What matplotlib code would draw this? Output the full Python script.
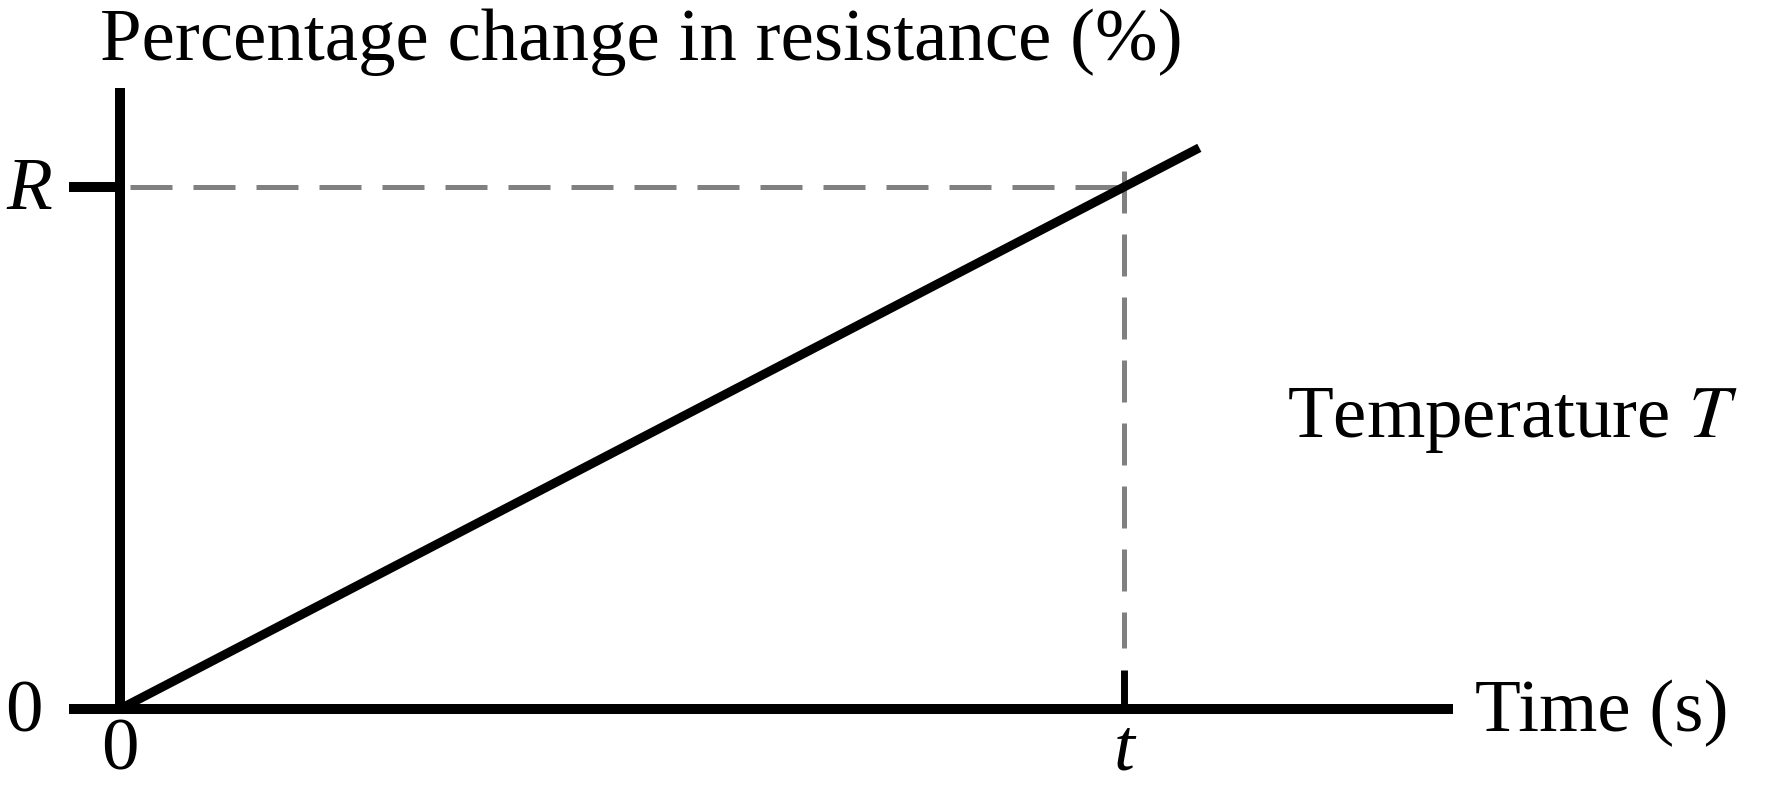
import matplotlib
matplotlib.use("Agg")
import matplotlib.pyplot as plt

# values (t and R are the marked values)
t_val = 1.0
R_val = 1.0
line_x = [0.0, 1.075]
line_y = [0.0, 1.075]
x_axis_end = [-0.051, 1.328]
y_axis_top = 1.19

plt.rcParams['font.family'] = ['Liberation Serif', 'DejaVu Serif']

fig = plt.figure(figsize=(17.66, 7.9), dpi=100)
ax = fig.add_axes([0, 0, 1, 1])
ax.set_xlim(-0.1195, 1.6394)
ax.set_ylim(-0.1552, 1.3582)
ax.axis("off")

fs = 54

# axes
ax.plot(x_axis_end, [0, 0], color="black", lw=7.2, solid_capstyle="butt")
ax.plot([0, 0], [0, y_axis_top], color="black", lw=7.2, solid_capstyle="butt")
ax.plot([-0.051, 0], [R_val, R_val], color="black", lw=7.2, solid_capstyle="butt")
ax.plot([t_val, t_val], [0, 0.075], color="black", lw=5, solid_capstyle="butt")

# guide lines
dash = (0, (8.4, 4.2))
ax.plot([0.01, t_val], [R_val, R_val], color="#808080", lw=3.6, linestyle=dash)
ax.plot([t_val, t_val], [R_val + 0.03, 0.117], color="#808080", lw=3.6, linestyle=dash)

# data line
ax.plot(line_x, line_y, color="black", lw=6.5, solid_capstyle="butt")

# labels
ax.text(-0.02, 1.243, "Percentage change in resistance (%)", fontsize=fs,
        ha="left", va="baseline")
ax.text(1.35, -0.043, "Time (s)", fontsize=fs, ha="left", va="baseline")
ax.text(1.162, 0.521, "Temperature $\\mathit{T}$", fontsize=fs, ha="left", va="baseline",
        math_fontfamily="stix")
ax.text(-0.0956, -0.044, "0", fontsize=fs, ha="center", va="baseline")
ax.text(0, -0.115, "0", fontsize=fs, ha="center", va="baseline")
ax.text(t_val, -0.115, "t", fontsize=fs, ha="center", va="baseline", style="italic")
ax.text(-0.0906, 0.958, "R", fontsize=fs, ha="center", va="baseline", style="italic")

fig.savefig("out.png", dpi=100)
